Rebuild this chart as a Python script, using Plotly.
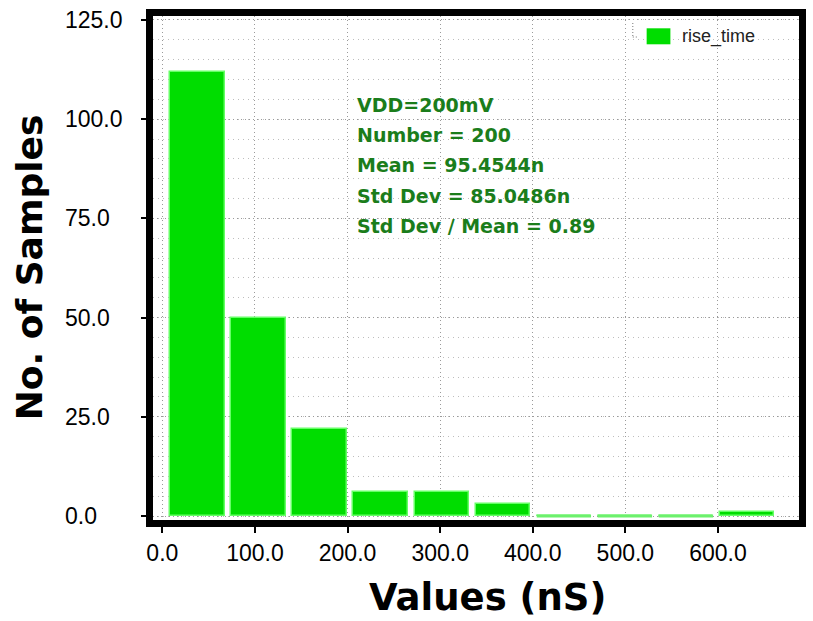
import plotly.graph_objects as go

# Histogram of rise_time (ns), 10 bins
bin_centers = [37.9, 103.8, 169.8, 235.7, 301.7, 367.6, 433.6, 499.5, 565.4, 631.4]
counts = [112, 50, 22, 6, 6, 3, 0, 0, 0, 1]
bin_width = 65.94

x_ticks = [0, 100, 200, 300, 400, 500, 600]
x_tick_text = ["0.0", "100.0", "200.0", "300.0", "400.0", "500.0", "600.0"]
y_ticks = [0, 25, 50, 75, 100, 125]
y_tick_text = ["0.0", "25.0", "50.0", "75.0", "100.0", "125.0"]

stats_lines = [
    "VDD=200mV",
    "Number = 200",
    "Mean = 95.4544n",
    "Std Dev = 85.0486n",
    "Std Dev / Mean = 0.89",
]
series_name = "rise_time"

W, H = 813, 621
ML, MR, MT, MB = 153, 7, 16, 101
PW, PH = W - ML - MR, H - MT - MB


def px(x):
    return (x - ML) / PW


def py(y):
    return (H - MB - y) / PH


BAR_FILL = "#00dd00"
BAR_EDGE = "#66ff66"
TEXT_GREEN = "#1b7d1b"

fig = go.Figure()

fig.add_trace(go.Bar(
    x=bin_centers, y=counts, width=bin_width * 0.89,
    marker=dict(color=BAR_FILL, line=dict(color=BAR_EDGE, width=1.5)),
    name=series_name, showlegend=False,
))

# empty bins are shown as a flat outline on the baseline
zx, zy = [], []
for c, n in zip(bin_centers, counts):
    if n == 0:
        half = bin_width * 0.89 / 2
        zx += [c - half, c + half, None]
        zy += [n, n, None]
fig.add_trace(go.Scatter(
    x=zx, y=zy, mode="lines", line=dict(color="#6cf06c", width=3),
    showlegend=False, hoverinfo="skip",
))

tick_font = dict(family="Liberation Sans, Arial, sans-serif", size=23, color="black")

fig.update_xaxes(
    range=[-10.1, 687.5], tickvals=x_ticks, ticktext=x_tick_text,
    ticks="outside", ticklen=6, tickwidth=1.5, tickcolor="black",
    showline=True, linewidth=7, linecolor="black", mirror=True,
    showgrid=True, gridcolor="#9a9a9a", griddash="1px,3px", gridwidth=1,
    zeroline=False, tickfont=tick_font,
)
fig.update_yaxes(
    range=[-1, 126], tickvals=y_ticks,
    ticks="outside", ticklen=5, tickwidth=1.5, tickcolor="black",
    showline=True, linewidth=7, linecolor="black", mirror=True,
    showgrid=True, gridcolor="#9a9a9a", griddash="1px,3px", gridwidth=1,
    minor=dict(dtick=5, showgrid=True, gridcolor="#bdbdbd", griddash="1px,4px"),
    zeroline=False, showticklabels=False,
)

annotations = []
# left-aligned y tick labels
for v, t in zip(y_ticks, y_tick_text):
    annotations.append(dict(
        x=px(62), xref="paper", y=v, yref="y", text=t, showarrow=False,
        xanchor="left", yanchor="middle", font=tick_font,
    ))

# statistics block
for i, line in enumerate(stats_lines):
    annotations.append(dict(
        x=px(357), xref="paper", y=py(104.5 + 30.5 * i), yref="paper",
        text="<b>%s</b>" % line, showarrow=False, xanchor="left", yanchor="middle",
        font=dict(family="DejaVu Sans", size=19, color=TEXT_GREEN),
    ))

# axis titles
annotations.append(dict(
    x=px(491.5), xref="paper", y=py(597), yref="paper",
    text="<b>Values (nS)</b>", showarrow=False, xanchor="center", yanchor="middle",
    font=dict(family="DejaVu Sans", size=37, color="black"),
))
annotations.append(dict(
    x=px(28), xref="paper", y=py(267), yref="paper",
    text="<b>No. of Samples</b>", showarrow=False, textangle=-90,
    xanchor="center", yanchor="middle",
    font=dict(family="DejaVu Sans", size=36, color="black"),
))

# legend entry
annotations.append(dict(
    x=px(686), xref="paper", y=py(36.3), yref="paper",
    text=series_name, showarrow=False, xanchor="left", yanchor="middle",
    font=dict(family="Liberation Sans, Arial, sans-serif", size=18, color="#222222"),
))

shapes = [
    dict(type="rect", xref="paper", yref="paper", layer="between",
         x0=px(627), x1=px(775), y0=py(52), y1=py(16),
         fillcolor="white", line=dict(width=0)),
    dict(type="rect", xref="paper", yref="paper", layer="above",
         x0=px(652), x1=px(676), y0=py(44.3), y1=py(28.3),
         fillcolor=BAR_FILL, line=dict(width=0)),
    dict(type="line", xref="paper", yref="paper",
         x0=px(638), x1=px(638), y0=py(23), y1=py(37),
         line=dict(color="#777777", width=1, dash="1px,2px")),
    dict(type="line", xref="paper", yref="paper",
         x0=px(638), x1=px(644), y0=py(37), y1=py(37),
         line=dict(color="#777777", width=1, dash="1px,2px")),
]

fig.update_layout(
    width=W, height=H,
    margin=dict(l=ML, r=MR, t=MT, b=MB),
    plot_bgcolor="white", paper_bgcolor="white",
    bargap=0, showlegend=False,
    annotations=annotations, shapes=shapes,
)

fig.write_html("out.html")
